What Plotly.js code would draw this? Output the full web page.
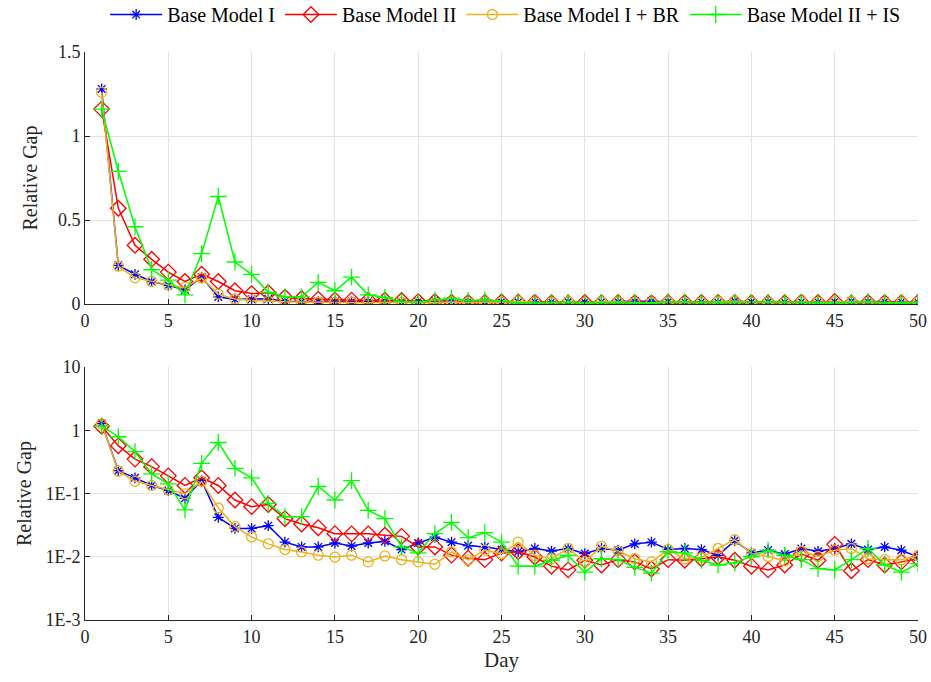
<!DOCTYPE html>
<html>
<head>
<meta charset="utf-8">
<script src="https://cdn.plot.ly/plotly-3.0.1.min.js"></script>
<style>html,body{margin:0;padding:0;background:#fff;}#chart{width:931px;height:682px;}</style>
</head>
<body>
<div id="chart"></div>
<script>
const days = [1,2,3,4,5,6,7,8,9,10,11,12,13,14,15,16,17,18,19,20,21,22,23,24,25,26,27,28,29,30,31,32,33,34,35,36,37,38,39,40,41,42,43,44,45,46,47,48,49,50];

const baseModelI = [1.28,0.23,0.177,0.134,0.111,0.084,0.16,0.042,0.028,0.028,
  0.031,0.017,0.0143,0.0143,0.0165,0.0148,0.0165,0.0175,0.013,0.0165,
  0.0205,0.017,0.015,0.0143,0.013,0.012,0.0135,0.0123,0.0135,0.0112,
  0.0135,0.0127,0.016,0.017,0.013,0.0135,0.013,0.0105,0.018,0.0115,
  0.0127,0.011,0.0135,0.0122,0.0135,0.016,0.013,0.0143,0.0127,0.0099];

const baseModelII = [1.16,0.57,0.35,0.266,0.19,0.134,0.177,0.134,0.079,0.062,
  0.067,0.040,0.033,0.0288,0.0232,0.023,0.023,0.0219,0.021,0.0143,
  0.0143,0.0106,0.0095,0.009,0.0115,0.012,0.0099,0.0071,0.0062,0.0088,
  0.0074,0.009,0.0083,0.0064,0.009,0.0088,0.0093,0.0099,0.0088,0.0071,
  0.0062,0.0074,0.011,0.0088,0.0157,0.006,0.009,0.0074,0.0083,0.0093];

const baseModelIBR = [1.26,0.225,0.156,0.134,0.114,0.099,0.155,0.059,0.030,0.0205,
  0.016,0.013,0.0119,0.0106,0.0099,0.0106,0.0083,0.0103,0.009,0.0083,
  0.0076,0.0119,0.0089,0.0127,0.0112,0.017,0.0105,0.0093,0.0135,0.0083,
  0.0146,0.0123,0.0093,0.0083,0.013,0.0093,0.0097,0.0135,0.0186,0.0112,
  0.0101,0.0086,0.0123,0.0101,0.0127,0.0135,0.0093,0.009,0.009,0.0105];

const baseModelIIIS = [1.16,0.79,0.46,0.204,0.142,0.055,0.30,0.64,0.25,0.177,
  0.070,0.043,0.043,0.129,0.079,0.16,0.054,0.040,0.0143,0.0115,
  0.0232,0.035,0.020,0.024,0.017,0.0071,0.0071,0.0088,0.0105,0.0057,
  0.0093,0.009,0.0068,0.0055,0.012,0.0115,0.0088,0.0074,0.008,0.0101,
  0.0127,0.0105,0.009,0.0065,0.0062,0.009,0.0135,0.0074,0.0057,0.0078];

const seriesNames = ['Base Model I','Base Model II','Base Model I + BR','Base Model II + IS'];
const linearTicks = [0,0.5,1,1.5];
const linearTickText = ['0','0.5','1','1.5'];
const logTicks = [0.001,0.01,0.1,1,10];
const logTickText = ['1E-3','1E-2','1E-1','1','10'];
const xTicks = [0,5,10,15,20,25,30,35,40,45,50];

const series = [baseModelI, baseModelII, baseModelIBR, baseModelIIIS];
const colors = ['#0000ff','#ff0000','#edb120','#00ff00'];
const symbols = ['asterisk-open','diamond-open','circle-open','cross-thin-open'];
const sizes = [9,12,10,12];

const traces = [];
[['x','y',false],['x2','y2',true]].forEach(([xa,ya,legend]) => {
  series.forEach((vals,i) => {
    traces.push({
      x: days, y: vals, xaxis: xa, yaxis: ya,
      type: 'scatter', mode: 'lines+markers',
      name: seriesNames[i], showlegend: legend,
      line: {color: colors[i], width: 1.5},
      marker: {symbol: symbols[i], size: sizes[i], color: colors[i], line: {color: colors[i], width: 1.3}}
    });
  });
});

const fontFam = 'Liberation Serif, Times New Roman, serif';
const axCommon = {
  showline: true, linecolor: '#262626', linewidth: 1,
  ticks: 'inside', ticklen: 5, tickcolor: '#262626', tickwidth: 1,
  showgrid: true, gridcolor: '#e3e3e3', gridwidth: 1,
  zeroline: false, mirror: false,
  tickfont: {family: fontFam, size: 18, color: '#262626'}
};

const layout = {
  width: 931, height: 682,
  paper_bgcolor: '#ffffff', plot_bgcolor: '#ffffff',
  margin: {l: 85, r: 13, t: 52, b: 62, autoexpand: false},
  font: {family: fontFam, color: '#262626'},
  showlegend: true,
  legend: {orientation: 'h', x: 0.505, xanchor: 'center', y: 1.066, yanchor: 'middle',
           font: {family: fontFam, size: 20, color: '#000000'}, bgcolor: 'rgba(0,0,0,0)', borderwidth: 0,
           itemwidth: 52, tracegroupgap: 0},
  xaxis: Object.assign({}, axCommon, {domain: [0,1], range: [0,50], tickvals: xTicks, anchor: 'y'}),
  yaxis: Object.assign({}, axCommon, {domain: [0.5563,1], range: [0,1.5], tickvals: linearTicks, ticktext: linearTickText, anchor: 'x',
           title: {text: 'Relative Gap', font: {family: fontFam, size: 20, color: '#262626'}, standoff: 14}}),
  xaxis2: Object.assign({}, axCommon, {domain: [0,1], range: [0,50], tickvals: xTicks, anchor: 'y2',
           title: {text: 'Day', font: {family: fontFam, size: 21, color: '#262626'}, standoff: 6}}),
  yaxis2: Object.assign({}, axCommon, {domain: [0,0.4454], type: 'log', range: [-3,1], tickvals: logTicks, ticktext: logTickText, anchor: 'x2',
           title: {text: 'Relative Gap', font: {family: fontFam, size: 20, color: '#262626'}, standoff: 8}})
};

Plotly.newPlot('chart', traces, layout, {displayModeBar: false, staticPlot: true});
</script>
</body>
</html>
